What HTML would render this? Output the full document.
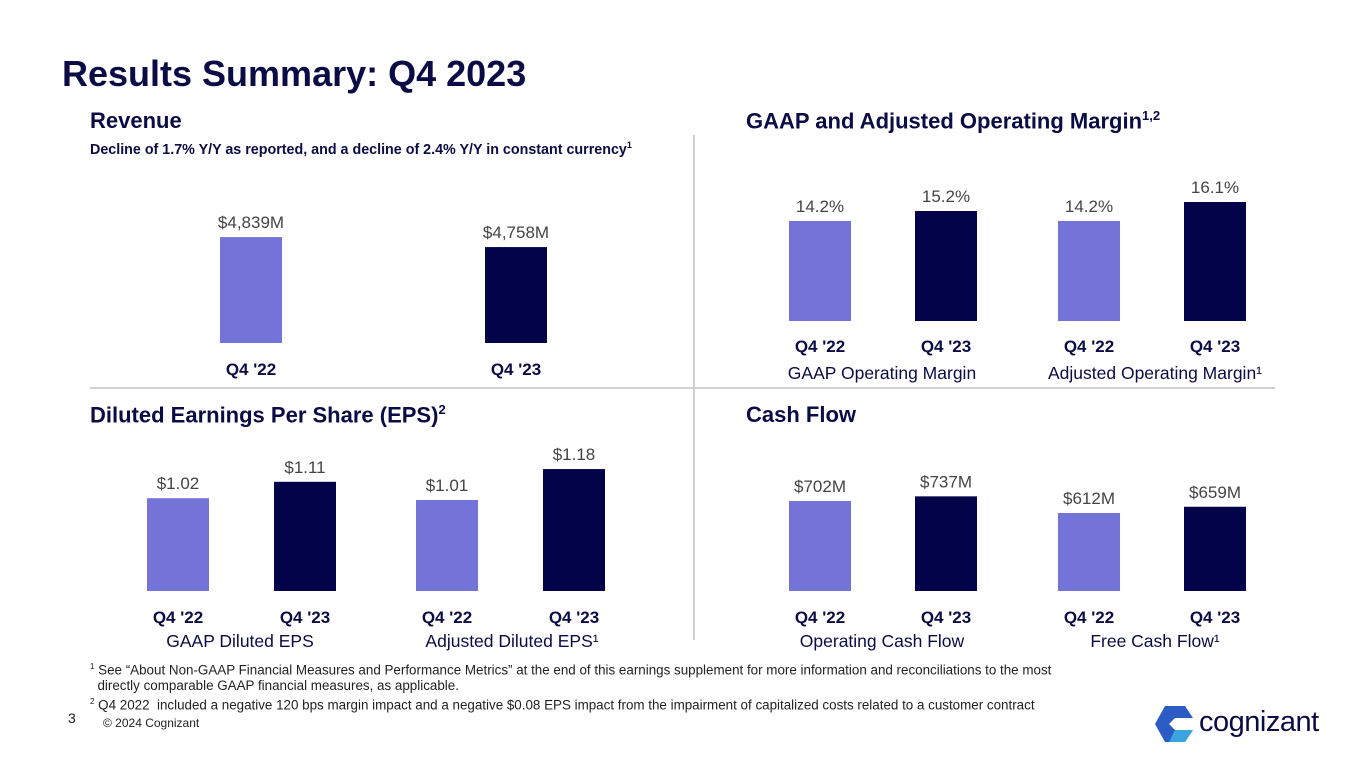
<!DOCTYPE html>
<html><head><meta charset="utf-8"><style>
body{margin:0;width:1365px;height:768px;background:#fff;overflow:hidden;font-family:"Liberation Sans",sans-serif;color:#0b0b45}
.t{position:absolute;white-space:nowrap}
svg{position:absolute;left:0;top:0}
</style></head><body>
<div class="t" style="left:62px;top:53px;font-size:36px;font-weight:bold;color:#0b0b45">Results Summary: Q4 2023</div>
<div class="t" style="left:90px;top:108px;font-size:22px;font-weight:bold">Revenue</div>
<div class="t" style="left:90px;top:140px;font-size:14.3px;font-weight:bold">Decline of 1.7% Y/Y as reported, and a decline of 2.4% Y/Y in constant currency<sup style="font-size:9px">1</sup></div>
<div class="t" style="left:746px;top:108px;font-size:22px;font-weight:bold">GAAP and Adjusted Operating Margin<sup style="font-size:13px">1,2</sup></div>
<div class="t" style="left:90px;top:402px;font-size:22px;font-weight:bold">Diluted Earnings Per Share (EPS)<sup style="font-size:13px">2</sup></div>
<div class="t" style="left:746px;top:402px;font-size:22px;font-weight:bold">Cash Flow</div>
<div class="t" style="left:90px;top:659px;font-size:13.4px;line-height:16px;color:#222">
<div><sup style="font-size:8px">1</sup> See “About Non-GAAP Financial Measures and Performance Metrics” at the end of this earnings supplement for more information and reconciliations to the most</div>
<div>&nbsp;&nbsp;directly comparable GAAP financial measures, as applicable.</div>
<div><sup style="font-size:8px">2</sup> Q4 2022&nbsp; included a negative 120 bps margin impact and a negative $0.08 EPS impact from the impairment of capitalized costs related to a customer contract</div>
</div>
<div class="t" style="left:68px;top:710px;font-size:14px;color:#222">3</div>
<div class="t" style="left:103px;top:716px;font-size:12px;color:#222">© 2024 Cognizant</div>
<div style="position:absolute;left:1155px;top:706px;width:200px;height:40px">
<svg width="40" height="36" viewBox="0 0 40 36" style="left:0;top:0"><polygon points="10,0 30,0 38,12 20,12 14,18 20,24 38,24 30,36 10,36 0,18" fill="#2a5cc4"/><polygon points="20,24 38,24 30,36 14,36" fill="#3ba3dd"/></svg>
<div class="t" style="left:44px;top:0px;font-size:29px;color:#0b0b45;letter-spacing:-0.5px">cognizant</div>
</div>
<svg id="chart" width="1365" height="768">
<line x1="694" y1="135" x2="694" y2="640" stroke="#d0d0d0" stroke-width="2"/>
<line x1="90" y1="388" x2="1275" y2="388" stroke="#d0d0d0" stroke-width="2"/>
</svg>
<script>
const revCats=["Q4 '22","Q4 '23"];
const revVals=[4839,4758];
const revLabels=["$4,839M","$4,758M"];
const gaapMargin=[14.2,15.2];
const adjMargin=[14.2,16.1];
const marginLabelsG=["14.2%","15.2%"];
const marginLabelsA=["14.2%","16.1%"];
const gaapEps=[1.02,1.11];
const adjEps=[1.01,1.18];
const epsLabelsG=["$1.02","$1.11"];
const epsLabelsA=["$1.01","$1.18"];
const opCash=[702,737];
const freeCash=[612,659];
const cashLabelsO=["$702M","$737M"];
const cashLabelsF=["$612M","$659M"];
const cats=["Q4 '22","Q4 '23"];
const svg=document.getElementById('chart');
const NS='http://www.w3.org/2000/svg';
const colors=["#7474d8","#03034a"];
function txt(x,y,s,size,weight,fill,name){
  const t=document.createElementNS(NS,'text');
  t.setAttribute('x',x);t.setAttribute('y',y);t.setAttribute('text-anchor','middle');
  t.setAttribute('font-size',size);t.setAttribute('font-weight',weight);t.setAttribute('fill',fill);
  t.setAttribute('font-family','Liberation Sans, sans-serif');
  t.textContent=s;
  
  
  svg.appendChild(t);
}
function group(xs,vals,labels,base,zero,k,catY,prefix){
  vals.forEach((v,i)=>{
    const h=(v-zero)*k;
    const r=document.createElementNS(NS,'rect');
    r.setAttribute('x',xs[i]);r.setAttribute('y',base-h);r.setAttribute('width',62);r.setAttribute('height',h);
    r.setAttribute('fill',colors[i]);
    
    
    svg.appendChild(r);
    txt(xs[i]+31,base-h-9,labels[i],17,'normal','#444',prefix+'-value-'+i);
    txt(xs[i]+31,catY,cats[i],17,'bold','#0b0b45',prefix+'-category-'+i);
  });
}
group([220,485],revVals,revLabels,343,3981,10/81,375,'revenue');
group([789,915],gaapMargin,marginLabelsG,321,4.2,10,352,'gaap-margin');
group([1058,1184],adjMargin,marginLabelsA,321,4.2,10,352,'adj-margin');
group([147,274],gaapEps,epsLabelsG,591,0.51,182,623,'gaap-eps');
group([416,543],adjEps,epsLabelsA,591,0.51,182,623,'adj-eps');
group([789,915],opCash,cashLabelsO,591,27,0.1333,623,'op-cash');
group([1058,1184],freeCash,cashLabelsF,591,27,0.1333,623,'free-cash');
txt(882,379,'GAAP Operating Margin',17.5,'normal','#0b0b45','gaap-margin-title');
txt(1155,379,'Adjusted Operating Margin¹',17.5,'normal','#0b0b45','adj-margin-title');
txt(240,647,'GAAP Diluted EPS',17.5,'normal','#0b0b45','gaap-eps-title');
txt(512,647,'Adjusted Diluted EPS¹',17.5,'normal','#0b0b45','adj-eps-title');
txt(882,647,'Operating Cash Flow',17.5,'normal','#0b0b45','op-cash-title');
txt(1155,647,'Free Cash Flow¹',17.5,'normal','#0b0b45','free-cash-title');
</script>
</body></html>
